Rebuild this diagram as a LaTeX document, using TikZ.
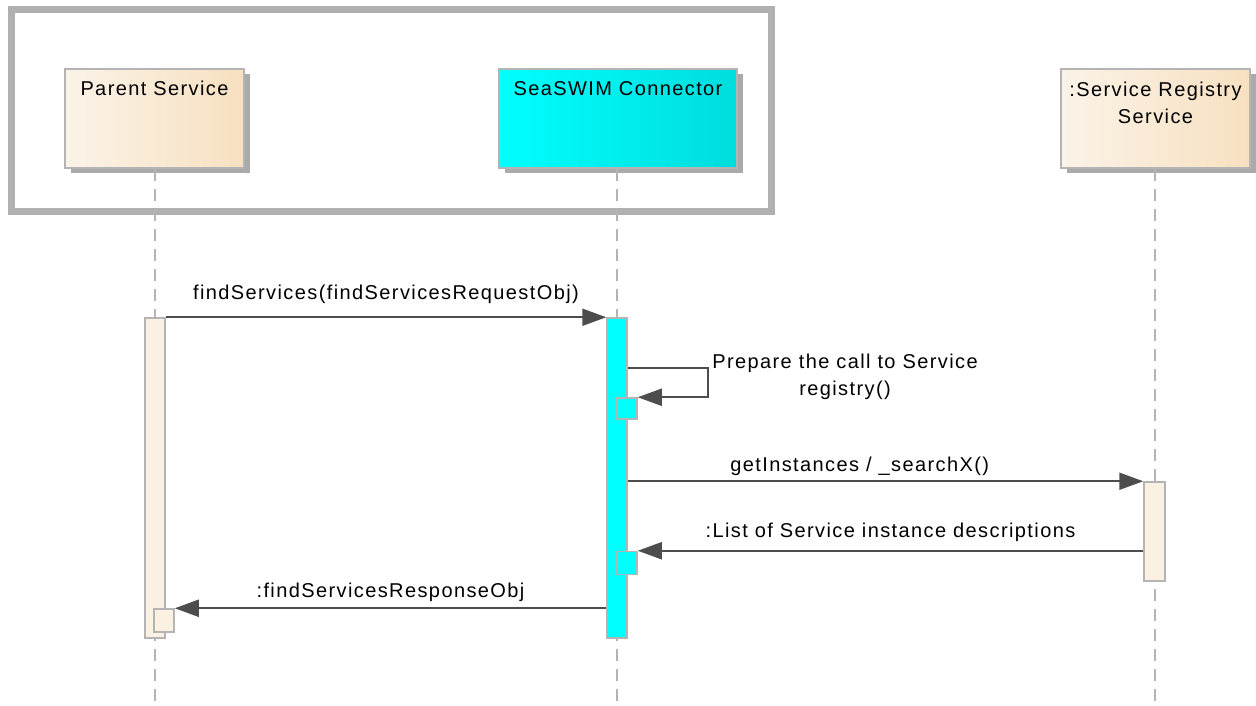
\documentclass[tikz,border=0pt]{standalone}
\usepackage{fontspec}
\setmainfont[LetterSpace=7]{Liberation Sans}
\usetikzlibrary{positioning, arrows.meta, calc, shadows}
\definecolor{frameg}{RGB}{176,176,176}
\definecolor{edgegray}{RGB}{180,180,180}
\definecolor{shadowgray}{RGB}{170,170,170}
\definecolor{arrowgray}{RGB}{77,77,77}
\definecolor{tanleft}{RGB}{251,243,232}
\definecolor{tanright}{RGB}{247,224,192}
\definecolor{barfill}{RGB}{251,241,227}
\definecolor{cyanleft}{RGB}{0,255,255}
\definecolor{cyanright}{RGB}{0,220,220}

\begin{document}
\begin{tikzpicture}[x=1pt, y=-1pt,
    font=\fontsize{20}{27}\selectfont,
    frame/.style={draw=frameg, line width=7pt, minimum width=760pt,
                  minimum height=201pt, inner sep=0pt},
    actor/.style={rectangle, draw=edgegray, line width=1.5pt, inner sep=0pt,
                  minimum height=99pt,
                  drop shadow={shadow xshift=5.5pt, shadow yshift=-5.5pt,
                               fill=shadowgray, opacity=1}},
    tanactor/.style={actor, left color=tanleft, right color=tanright},
    cyanactor/.style={actor, left color=cyanleft, right color=cyanright},
    actorname/.style={anchor=north, inner sep=0pt, align=center},
    bar/.style={rectangle, draw=edgegray, line width=1.5pt, inner sep=0pt,
                minimum width=20pt},
    tanbar/.style={bar, fill=barfill},
    cyanbar/.style={bar, fill=cyanleft},
    lifeline/.style={draw=edgegray, line width=1.5pt, dash pattern=on 12pt off 8pt},
    msg/.style={-{Triangle[length=24pt, width=17pt]}, draw=arrowgray, line width=2pt},
    msglabel/.style={anchor=base, inner sep=0pt},
]
\useasboundingbox (0,0) rectangle (1256,706);

% ─── Grouping frame ──────────────────────────────────────────────
\node[frame] (group) at (391,110.5) {};

% ─── Participants ────────────────────────────────────────────────
\node[tanactor, minimum width=179pt] (parent) at (154.5,118.5) {};
\node[actorname] (parentname) at ([yshift=-13pt]parent.north) {Parent Service};

\node[cyanactor, minimum width=238pt] (conn) at (618,118.5) {};
\node[actorname] (connname) at ([yshift=-13pt]conn.north) {SeaSWIM Connector};

\node[tanactor, minimum width=189pt] (registry) at (1155.5,118.5) {};
\node[actorname] (registryname) at ([yshift=-14pt]registry.north) {:Service Registry\\Service};

% ─── Lifelines ───────────────────────────────────────────────────
\coordinate (parentend) at (155,706);
\coordinate (connend) at (617,706);
\coordinate (registryend) at (1155,706);
\draw[lifeline] (parent.south -| parentend) -- (parentend);
\draw[lifeline] (conn.south -| connend) -- (connend);
\draw[lifeline] (registry.south -| registryend) -- (registryend);

% ─── Activations ─────────────────────────────────────────────────
\node[tanbar, minimum height=320pt] (pbar) at (155,478) {};
\node[cyanbar, minimum height=320pt] (cbar) at (617,478) {};
\node[tanbar, minimum width=21pt, minimum height=99pt] (rbar) at (1154.5,531.5) {};

% nested activations, sitting on the right edge of the bars
\node[cyanbar, minimum height=21pt] (cself1) at (627,408.5) {};
\node[cyanbar, minimum height=23pt] (cself2) at (627,563) {};
\node[tanbar, minimum height=23pt] (pself) at (164,620.5) {};

% ─── Messages ────────────────────────────────────────────────────
\draw[msg] (pbar.north east) -- (cbar.north west)
  node[msglabel, midway, yshift=18pt] (m1) {findServices(findServicesRequestObj)};

% self call on the connector
\draw[msg] ($(cself1.north -| cbar.east)+(0,-29)$) -- ++(80,0) |- (cself1.north east);
\node[actorname] (m2) at (845,354) {Prepare the call to Service\\registry()};

\draw[msg] (cbar.east |- rbar.north) -- (rbar.north west)
  node[msglabel, pos=0.45, yshift=10pt] (m3) {getInstances / \_searchX()};

\draw[msg] (rbar.west |- cself2.north) -- (cself2.north east)
  node[msglabel, midway, yshift=13pt] (m4) {:List of Service instance descriptions};

\draw[msg] (cbar.west |- pself.north) -- (pself.north east)
  node[msglabel, midway, yshift=11pt] (m5) {:findServicesResponseObj};

\end{tikzpicture}
\end{document}
